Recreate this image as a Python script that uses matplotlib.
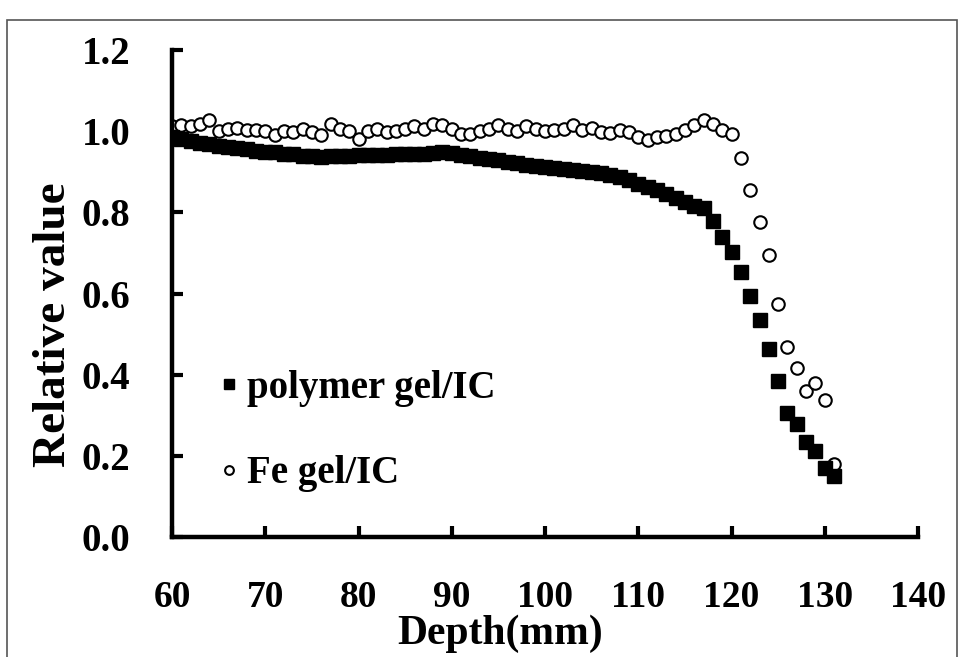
import matplotlib
matplotlib.use("Agg")
import matplotlib.pyplot as plt
from matplotlib.patches import Rectangle

plt.rcParams["font.family"] = ["Liberation Serif", "DejaVu Serif"]
plt.rcParams["font.weight"] = "bold"

depth = list(range(60, 132))

# polymer gel / IC (filled squares)
polymer = [
    0.985, 0.980, 0.976, 0.972, 0.968, 0.964, 0.961, 0.958, 0.955, 0.952,
    0.950, 0.948, 0.945, 0.943, 0.940, 0.938, 0.936, 0.938, 0.939, 0.940,
    0.941, 0.941, 0.942, 0.942, 0.943, 0.943, 0.944, 0.945, 0.947, 0.949,
    0.946, 0.942, 0.938, 0.934, 0.931, 0.928, 0.925, 0.921, 0.917, 0.914,
    0.912, 0.910, 0.907, 0.904, 0.901, 0.899, 0.896, 0.892, 0.887, 0.880,
    0.870, 0.862, 0.854, 0.846, 0.836, 0.826, 0.816, 0.810, 0.779, 0.739,
    0.702, 0.654, 0.593, 0.535, 0.463, 0.384, 0.306, 0.278, 0.234, 0.213,
    0.171, 0.151,
]

# Fe gel / IC (open circles)
fe_gel = [
    1.013, 1.015, 1.012, 1.018, 1.027, 1.000, 1.005, 1.009, 1.003, 1.004,
    1.000, 0.991, 1.001, 0.997, 1.005, 0.997, 0.991, 1.018, 1.006, 1.001,
    0.981, 1.001, 1.006, 0.997, 1.001, 1.005, 1.013, 1.006, 1.019, 1.015,
    1.006, 0.993, 0.994, 1.001, 1.005, 1.015, 1.005, 1.001, 1.012, 1.006,
    1.001, 1.002, 1.005, 1.015, 1.003, 1.009, 0.998, 0.995, 1.003, 0.997,
    0.985, 0.978, 0.985, 0.989, 0.993, 1.002, 1.015, 1.027, 1.018, 1.002,
    0.993, 0.934, 0.855, 0.777, 0.696, 0.575, 0.469, 0.417, 0.361, 0.379,
    0.338, 0.180,
]

xticks = [60, 70, 80, 90, 100, 110, 120, 130, 140]
yticks = [0.0, 0.2, 0.4, 0.6, 0.8, 1.0, 1.2]

fig = plt.figure(figsize=(9.6, 6.57), dpi=100)
ax = fig.add_axes([0.1792, 0.1826, 0.7771, 0.7412])

ax.plot(depth, polymer, linestyle="none", marker="s", markersize=9.5,
        color="black", label="polymer gel/IC", zorder=3)
ax.plot(depth, fe_gel, linestyle="none", marker="o", markersize=9,
        markerfacecolor="white", markeredgecolor="black", markeredgewidth=1.5,
        label="Fe gel/IC", zorder=2)

ax.set_xlim(60, 140)
ax.set_ylim(0, 1.2)
ax.set_xticks(xticks)
ax.set_yticks(yticks)
ax.set_yticklabels([f"{v:.1f}" for v in yticks])

for side in ["top", "right"]:
    ax.spines[side].set_visible(False)
for side in ["left", "bottom"]:
    ax.spines[side].set_linewidth(3.2)
    ax.spines[side].set_capstyle("projecting")

ax.tick_params(axis="both", direction="in", length=8, width=3, labelsize=28)
ax.tick_params(axis="x", labelsize=27, pad=31)
ax.tick_params(axis="y", pad=30)

ax.set_xlabel("Depth(mm)", fontsize=30, fontweight="bold")
ax.set_ylabel("Relative value", fontsize=34, fontweight="bold")
ax.xaxis.set_label_coords(0.44, -0.160)
ax.yaxis.set_label_coords(-0.130, 0.437)

ax.legend(loc="lower left", bbox_to_anchor=(0.017, 0.02), frameon=False,
          fontsize=28, markerscale=0.7, handlelength=0.5, handletextpad=0.2,
          labelspacing=1.24)

# grey frame around the whole picture
fig.patches.append(Rectangle((7 / 960, -0.05), 950 / 960, 1.05 - 20 / 657,
                             transform=fig.transFigure, fill=False,
                             edgecolor="#555555", linewidth=1.2))

fig.savefig("out.png", dpi=100)
